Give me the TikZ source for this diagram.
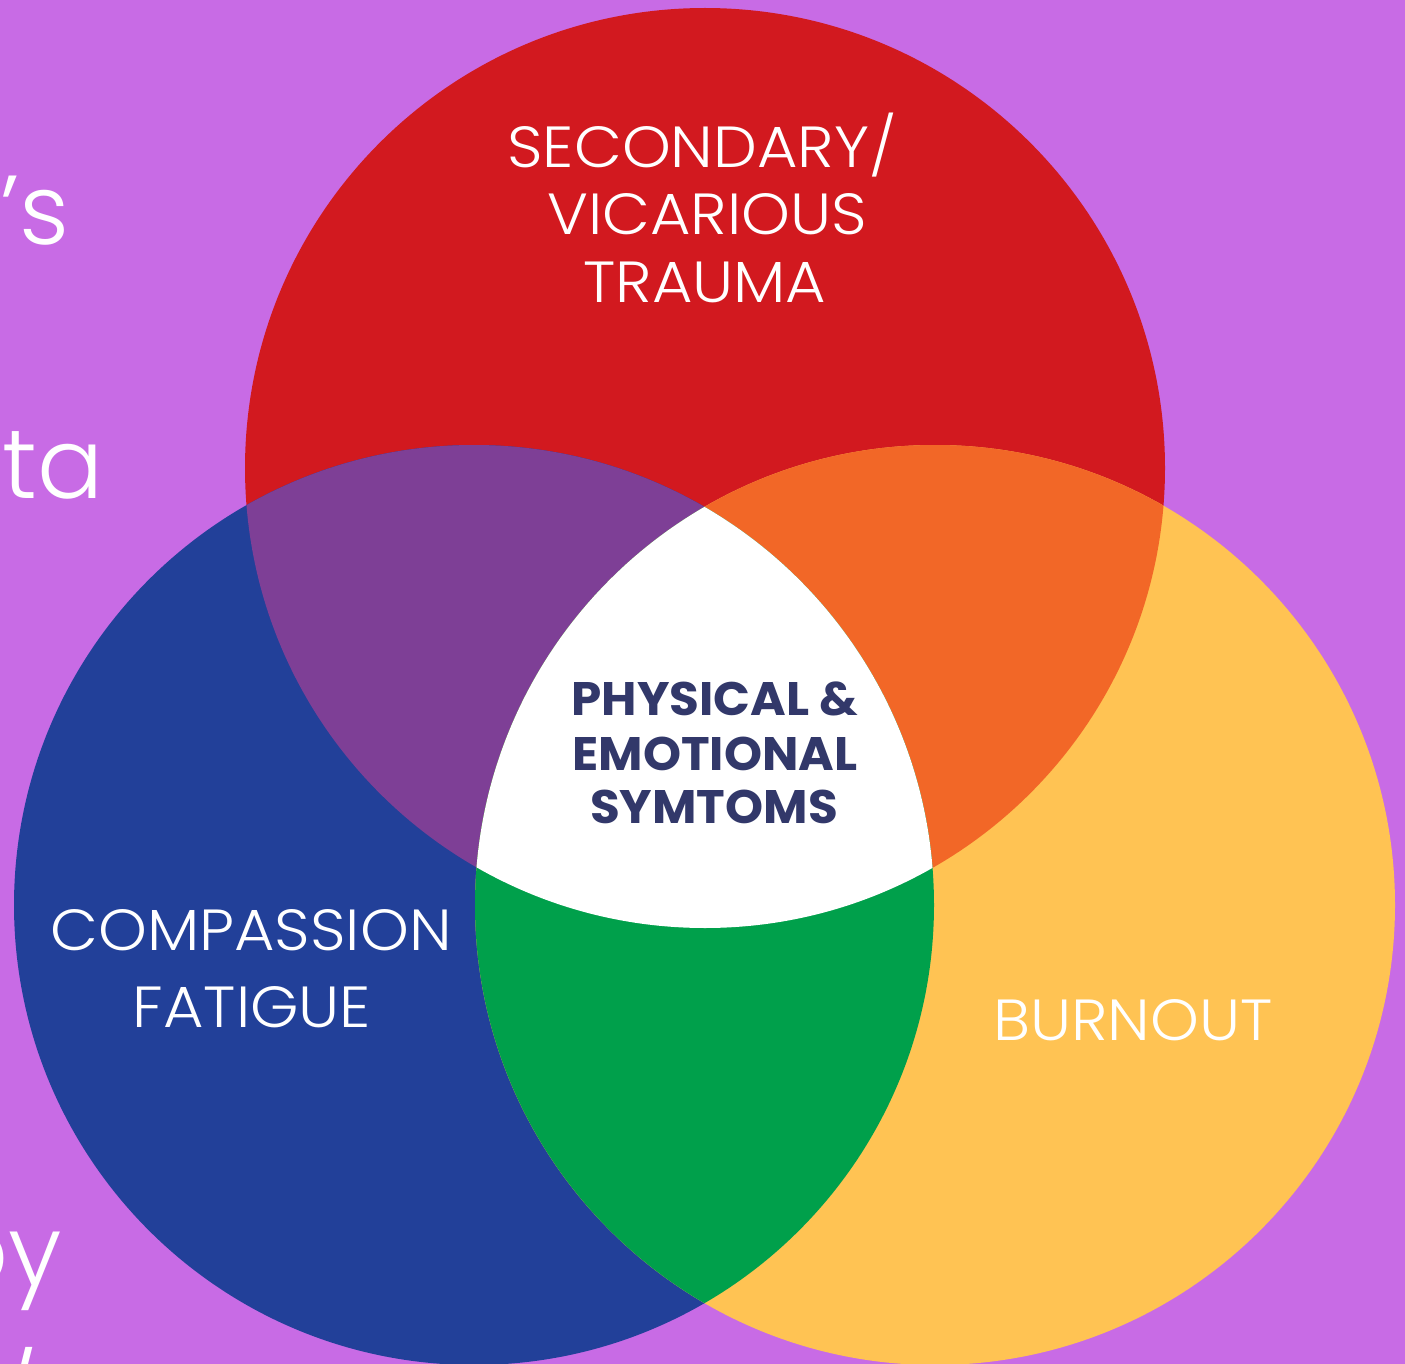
\documentclass[tikz,border=0pt]{standalone}
\usepackage{fontspec}
\newfontfamily\thinfont{Poppins Light}[FakeStretch=1.07]
\newfontfamily\handfont{Poppins Light}
\newfontfamily\heavyfont{Poppins Bold}[FakeStretch=1.03]

\definecolor{bgviolet}{HTML}{C86BE5}
\definecolor{vred}{HTML}{D2191F}
\definecolor{vblue}{HTML}{224099}
\definecolor{vyellow}{HTML}{FFC353}
\definecolor{vpurple}{HTML}{7E3F96}
\definecolor{vorange}{HTML}{F26727}
\definecolor{vgreen}{HTML}{00A04B}
\definecolor{vnavy}{HTML}{32386A}

\tikzset{
  setlabel/.style={font=\thinfont\fontsize{58}{58}\selectfont, text=white, inner sep=0pt, anchor=base},
  corelabel/.style={font=\heavyfont\fontsize{47}{47}\selectfont, text=vnavy, inner sep=0pt, anchor=base},
  scribble/.style={font=\handfont\fontsize{98}{98}\selectfont, text=white, inner sep=0pt},
}

\begin{document}
\begin{tikzpicture}[x=1pt,y=-1pt]
  \useasboundingbox (0,0) rectangle (1405,1364);
  \clip (0,0) rectangle (1405,1364);
  \fill[bgviolet] (0,0) rectangle (1405,1364);

  % partly hidden handwritten words along the left edge
  \node[scribble, anchor=base west] (w1) at (0,245) {’s};
  \node[scribble, anchor=base west] (w2) at (2,498) {ta};
  \node[scribble, anchor=base east] (w3) at (62,1285) {py};
  \node[scribble, anchor=north] (w4) at (16,1347) {/};

  % circle centres
  \coordinate (cr) at (705,468);
  \coordinate (cb) at (474,905);
  \coordinate (cy) at (935,905);
  \def\R{460pt}

  \fill[vred]    (cr) circle[radius=\R];
  \fill[vblue]   (cb) circle[radius=\R];
  \fill[vyellow] (cy) circle[radius=\R];

  % pairwise overlaps
  \begin{scope}
    \clip (cr) circle[radius=\R];
    \fill[vpurple] (cb) circle[radius=\R];
    \fill[vorange] (cy) circle[radius=\R];
  \end{scope}
  \begin{scope}
    \clip (cb) circle[radius=\R];
    \fill[vgreen] (cy) circle[radius=\R];
  \end{scope}
  % common core
  \begin{scope}
    \clip (cr) circle[radius=\R];
    \clip (cb) circle[radius=\R];
    \fill[white] (cy) circle[radius=\R];
  \end{scope}

  % set labels
  \node[setlabel] (t1) at (702,168) {SECONDARY/};
  \node[setlabel] (t2) at (707,235) {VICARIOUS};
  \node[setlabel] (t3) at (705,302) {TRAUMA};

  \node[setlabel] (c1) at (251,950) {COMPASSION};
  \node[setlabel] (c2) at (252,1027) {FATIGUE};

  \node[setlabel] (b1) at (1133,1040) {BURNOUT};

  % core label
  \node[corelabel] (p1) at (715,715) {PHYSICAL \&};
  \node[corelabel] (p2) at (715,770) {EMOTIONAL};
  \node[corelabel] (p3) at (714,823) {SYMTOMS};
\end{tikzpicture}
\end{document}
